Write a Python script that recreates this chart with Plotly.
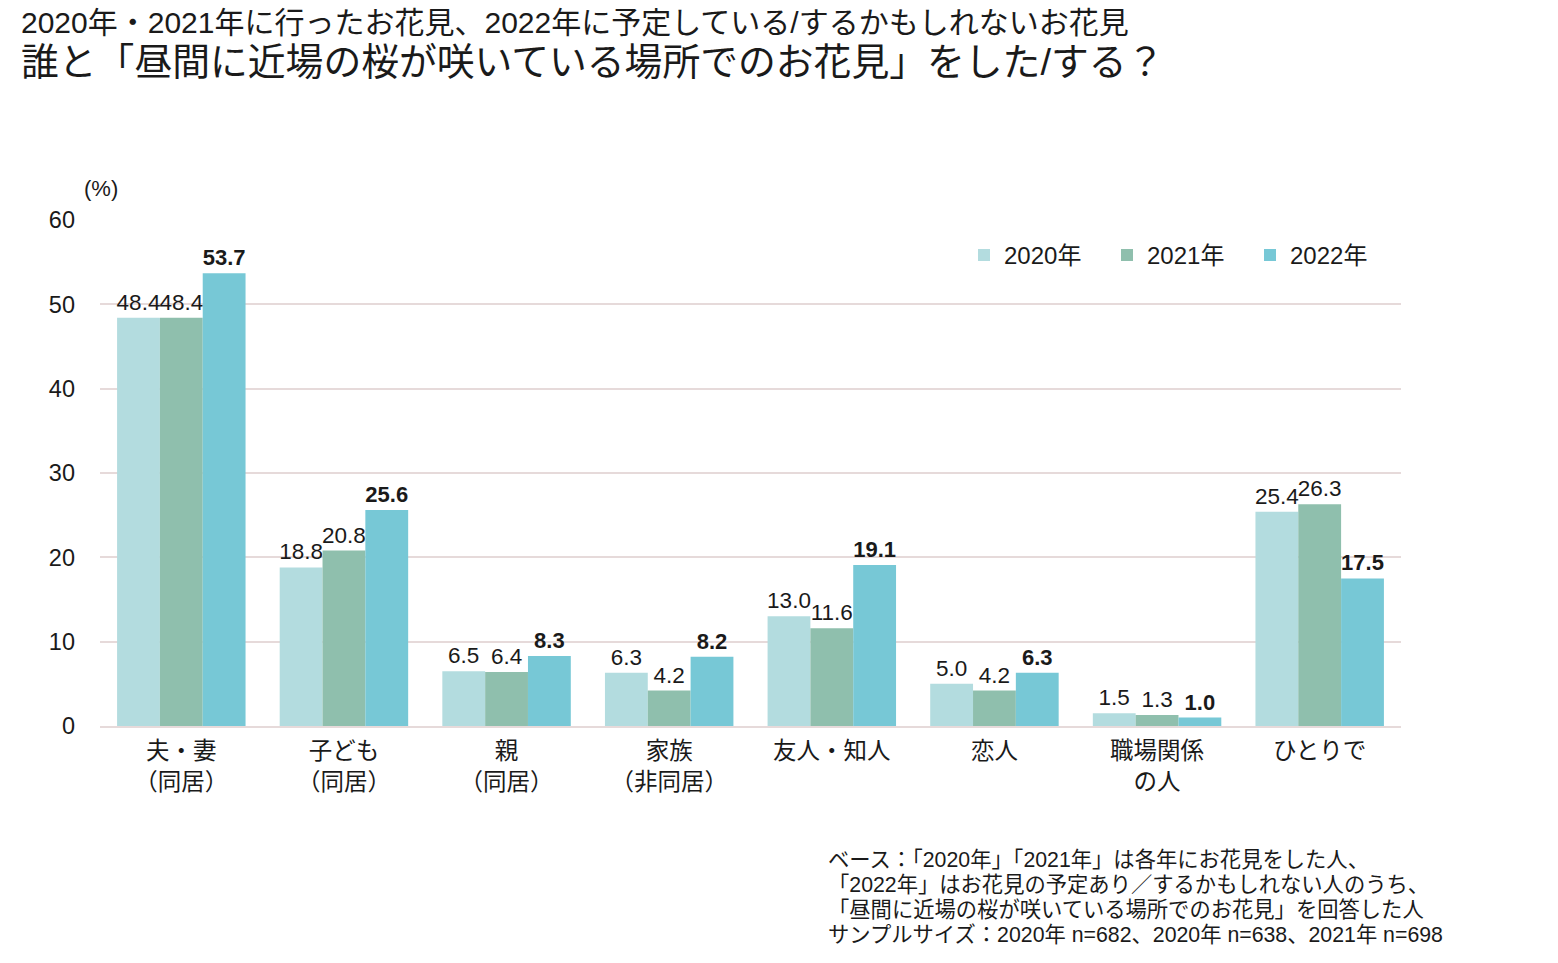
import plotly.graph_objects as go

categories = ["夫・妻<br>（同居）", "子ども<br>（同居）", "親<br>（同居）", "家族<br>（非同居）",
              "友人・知人", "恋人", "職場関係<br>の人", "ひとりで"]
v2020 = [48.4, 18.8, 6.5, 6.3, 13.0, 5.0, 1.5, 25.4]
v2021 = [48.4, 20.8, 6.4, 4.2, 11.6, 4.2, 1.3, 26.3]
v2022 = [53.7, 25.6, 8.3, 8.2, 19.1, 6.3, 1.0, 17.5]
series_names = ["2020年", "2021年", "2022年"]
colors = ["#b3dcdf", "#8fbfad", "#77c8d6"]
ytick_vals = [0, 10, 20, 30, 40, 50, 60]
title_line1 = "2020年・2021年に行ったお花見、2022年に予定している/するかもしれないお花見"
title_line2 = "誰と「昼間に近場の桜が咲いている場所でのお花見」をした/する？"
footnote_lines = [
    "ベース：「2020年」「2021年」は各年にお花見をした人、",
    "「2022年」はお花見の予定あり／するかもしれない人のうち、",
    "「昼間に近場の桜が咲いている場所でのお花見」を回答した人",
    "サンプルサイズ：2020年 n=682、2020年 n=638、2021年 n=698",
]

NUMFONT = "Liberation Sans, Arial, Noto Sans CJK JP"
JPFONT = "Liberation Sans, Noto Sans CJK JP, Meiryo, sans-serif"

fig = go.Figure()
for name, vals, col, bold in zip(series_names, [v2020, v2021, v2022], colors, [False, False, True]):
    fig.add_trace(go.Bar(
        x=categories, y=vals, name=name, marker_color=col, marker_line_width=0,
        text=[f"{v:.1f}" for v in vals], textposition="outside", cliponaxis=False,
        constraintext="none",
        textfont=dict(family=NUMFONT, size=22.5 if not bold else 22, color="#1a1a1a",
                      weight="bold" if bold else "normal"),
    ))

fig.update_layout(
    width=1558, height=963,
    margin=dict(l=100, r=157, t=220, b=237),
    paper_bgcolor="white", plot_bgcolor="white",
    barmode="group", bargap=0.21, bargroupgap=0,
    font=dict(family=JPFONT, color="#1a1a1a"),
    showlegend=True,
    legend=dict(orientation="h", x=(964 - 100) / 1301, y=0.93, xanchor="left", yanchor="middle",
                font=dict(family=NUMFONT, size=24, color="#1a1a1a"),
                entrywidth=98, entrywidthmode="pixels", itemwidth=30,
                traceorder="normal", bgcolor="rgba(0,0,0,0)"),
    xaxis=dict(tickfont=dict(family=JPFONT, size=23.5, color="#1a1a1a"),
               showgrid=False, showline=True, linecolor="#e6dada", linewidth=2,
               ticks="", ticklabelstandoff=3),
    yaxis=dict(range=[0, 60], tickvals=ytick_vals, showgrid=True, gridcolor="#e6dada",
               gridwidth=1.5, zeroline=False, showline=False, ticks="",
               tickfont=dict(family=NUMFONT, size=23.5, color="#1a1a1a"),
               ticklabelstandoff=24),
)

fig.add_annotation(text=title_line1, xref="paper", yref="paper", x=-0.062, y=1.0,
                   xanchor="left", yanchor="middle", yshift=220 - 22, showarrow=False,
                   font=dict(family=JPFONT, size=30, color="#1a1a1a"))
fig.add_annotation(text=title_line2, xref="paper", yref="paper", x=-0.062, y=1.0,
                   xanchor="left", yanchor="middle", yshift=220 - 62, showarrow=False,
                   font=dict(family=JPFONT, size=37.8, color="#1a1a1a"))
fig.add_annotation(text="(%)", xref="paper", yref="paper", x=-0.014, y=1.0, xanchor="left",
                   yanchor="middle", yshift=220 - 188, showarrow=False,
                   font=dict(family=NUMFONT, size=22, color="#1a1a1a"))
for i, line in enumerate(footnote_lines):
    fig.add_annotation(text=line, xref="paper", yref="paper", x=(826 - 100) / 1301, y=0,
                       xanchor="left", yanchor="middle", yshift=-(860 + 25 * i - 726),
                       align="left", showarrow=False,
                       font=dict(family=JPFONT, size=21.3, color="#1a1a1a"))

fig.write_html("out.html")
